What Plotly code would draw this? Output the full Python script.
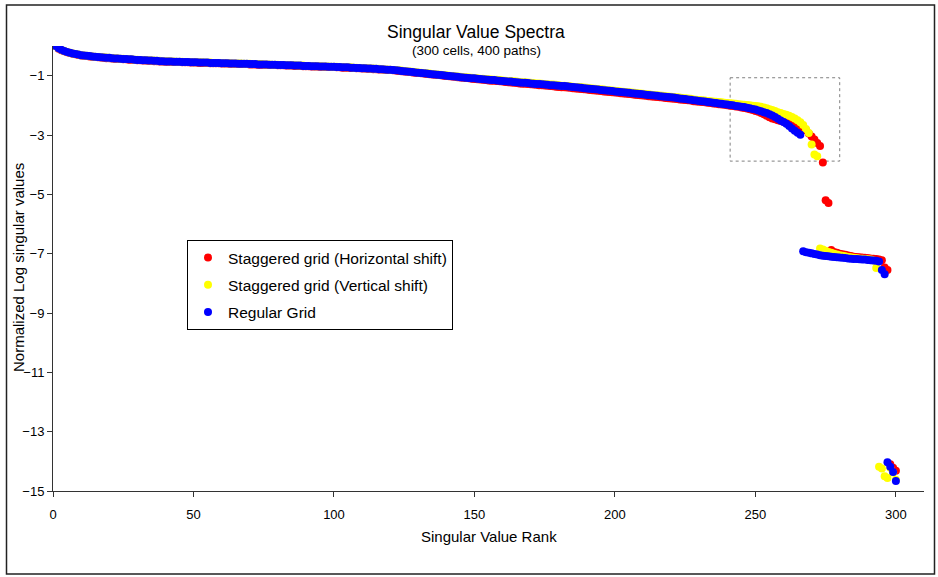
import plotly.graph_objects as go

# ---------------- data ----------------
series_names = ["Staggered grid (Horizontal shift)",
                "Staggered grid (Vertical shift)",
                "Regular Grid"]

horizontal_shift = [
    0.00, -0.09, -0.14, -0.18, -0.21, -0.24, -0.26, -0.28, -0.30, -0.32,
    -0.33, -0.34, -0.35, -0.36, -0.37, -0.38, -0.39, -0.40, -0.41, -0.41,
    -0.42, -0.43, -0.43, -0.44, -0.45, -0.45, -0.46, -0.46, -0.47, -0.48,
    -0.48, -0.49, -0.49, -0.50, -0.50, -0.51, -0.51, -0.52, -0.52, -0.53,
    -0.53, -0.53, -0.54, -0.54, -0.54, -0.55, -0.55, -0.55, -0.56, -0.56,
    -0.56, -0.57, -0.57, -0.57, -0.57, -0.58, -0.58, -0.58, -0.58, -0.59,
    -0.59, -0.59, -0.60, -0.60, -0.60, -0.61, -0.61, -0.61, -0.61, -0.62,
    -0.62, -0.62, -0.63, -0.63, -0.63, -0.63, -0.64, -0.64, -0.64, -0.65,
    -0.65, -0.65, -0.66, -0.66, -0.66, -0.67, -0.67, -0.67, -0.68, -0.68,
    -0.68, -0.69, -0.69, -0.69, -0.70, -0.70, -0.70, -0.71, -0.71, -0.71,
    -0.72, -0.72, -0.73, -0.73, -0.73, -0.74, -0.74, -0.75, -0.75, -0.76,
    -0.76, -0.77, -0.77, -0.78, -0.78, -0.79, -0.79, -0.80, -0.81, -0.81,
    -0.82, -0.83, -0.84, -0.85, -0.86, -0.87, -0.88, -0.89, -0.90, -0.91,
    -0.92, -0.93, -0.94, -0.95, -0.96, -0.97, -0.98, -0.99, -1.00, -1.01,
    -1.02, -1.03, -1.04, -1.05, -1.06, -1.07, -1.08, -1.09, -1.10, -1.11,
    -1.12, -1.13, -1.14, -1.15, -1.16, -1.17, -1.17, -1.18, -1.19, -1.20,
    -1.21, -1.22, -1.23, -1.24, -1.25, -1.26, -1.27, -1.27, -1.28, -1.29,
    -1.30, -1.31, -1.32, -1.32, -1.33, -1.34, -1.35, -1.36, -1.37, -1.38,
    -1.39, -1.39, -1.40, -1.41, -1.42, -1.43, -1.44, -1.45, -1.46, -1.47,
    -1.48, -1.49, -1.50, -1.51, -1.52, -1.53, -1.54, -1.55, -1.56, -1.57,
    -1.58, -1.59, -1.60, -1.61, -1.62, -1.63, -1.64, -1.65, -1.66, -1.67,
    -1.68, -1.69, -1.70, -1.71, -1.72, -1.73, -1.74, -1.75, -1.76, -1.77,
    -1.78, -1.79, -1.80, -1.81, -1.82, -1.83, -1.84, -1.86, -1.87, -1.88,
    -1.89, -1.90, -1.91, -1.92, -1.94, -1.95, -1.96, -1.97, -1.98, -2.00,
    -2.01, -2.02, -2.04, -2.05, -2.07, -2.09, -2.11, -2.13, -2.16, -2.19,
    -2.22, -2.26, -2.30, -2.35, -2.40, -2.44, -2.47, -2.50, -2.53, -2.55,
    -2.57, -2.59, -2.62, -2.65, -2.68, -2.72, -2.77, -2.84, -2.95, -3.05,
    -3.15, -3.27, -3.37, -3.93,
    -5.20, -5.29,
    -6.88, -6.94, -6.97, -7.00, -7.02, -7.04, -7.06, -7.08, -7.10, -7.11,
    -7.12, -7.13, -7.14, -7.15, -7.16, -7.17, -7.18, -7.20, -7.22, -7.47,
    -7.55,
    -14.10, -14.22, -14.32,
]

vertical_shift = [
    0.00, -0.08, -0.13, -0.17, -0.20, -0.23, -0.25, -0.27, -0.29, -0.31,
    -0.32, -0.33, -0.34, -0.35, -0.36, -0.37, -0.38, -0.38, -0.39, -0.40,
    -0.41, -0.41, -0.42, -0.43, -0.43, -0.44, -0.44, -0.45, -0.46, -0.46,
    -0.47, -0.47, -0.48, -0.48, -0.49, -0.49, -0.50, -0.50, -0.51, -0.51,
    -0.51, -0.52, -0.52, -0.53, -0.53, -0.53, -0.54, -0.54, -0.54, -0.55,
    -0.55, -0.55, -0.55, -0.56, -0.56, -0.56, -0.57, -0.57, -0.57, -0.57,
    -0.58, -0.58, -0.58, -0.59, -0.59, -0.59, -0.59, -0.60, -0.60, -0.60,
    -0.61, -0.61, -0.61, -0.61, -0.62, -0.62, -0.62, -0.63, -0.63, -0.63,
    -0.64, -0.64, -0.64, -0.65, -0.65, -0.65, -0.66, -0.66, -0.66, -0.67,
    -0.67, -0.67, -0.68, -0.68, -0.68, -0.69, -0.69, -0.69, -0.70, -0.70,
    -0.70, -0.71, -0.71, -0.72, -0.72, -0.72, -0.73, -0.73, -0.74, -0.74,
    -0.75, -0.75, -0.76, -0.76, -0.77, -0.77, -0.78, -0.79, -0.79, -0.80,
    -0.81, -0.81, -0.82, -0.83, -0.84, -0.85, -0.86, -0.87, -0.88, -0.89,
    -0.90, -0.91, -0.92, -0.93, -0.94, -0.95, -0.96, -0.97, -0.98, -0.99,
    -1.00, -1.01, -1.02, -1.03, -1.04, -1.05, -1.05, -1.06, -1.07, -1.08,
    -1.09, -1.10, -1.10, -1.11, -1.12, -1.13, -1.14, -1.14, -1.15, -1.16,
    -1.17, -1.18, -1.18, -1.19, -1.20, -1.21, -1.22, -1.22, -1.23, -1.24,
    -1.25, -1.26, -1.26, -1.27, -1.28, -1.29, -1.30, -1.30, -1.31, -1.32,
    -1.34, -1.34, -1.35, -1.36, -1.37, -1.38, -1.38, -1.39, -1.40, -1.41,
    -1.42, -1.43, -1.44, -1.45, -1.46, -1.47, -1.48, -1.49, -1.50, -1.51,
    -1.52, -1.53, -1.54, -1.55, -1.56, -1.57, -1.58, -1.59, -1.60, -1.61,
    -1.62, -1.63, -1.64, -1.65, -1.66, -1.67, -1.68, -1.69, -1.70, -1.71,
    -1.72, -1.73, -1.74, -1.75, -1.76, -1.77, -1.78, -1.80, -1.81, -1.82,
    -1.83, -1.84, -1.85, -1.86, -1.87, -1.88, -1.89, -1.90, -1.91, -1.92,
    -1.93, -1.94, -1.95, -1.96, -1.97, -1.98, -1.99, -2.00, -2.01, -2.02,
    -2.03, -2.05, -2.07, -2.10, -2.13, -2.16, -2.19, -2.23, -2.26, -2.29,
    -2.32, -2.35, -2.39, -2.44, -2.50, -2.57, -2.66, -2.80, -2.93, -3.32,
    -3.66, -3.72,
    -6.83, -6.86, -6.90, -6.94, -6.97, -7.00, -7.03, -7.05, -7.07, -7.09,
    -7.11, -7.12, -7.14, -7.15, -7.16, -7.17, -7.18, -7.19, -7.20, -7.23,
    -7.48,
    -14.18, -14.24, -14.50, -14.56, -14.22, -14.38, -14.62,
]

regular_grid = [
    0.00, -0.08, -0.13, -0.17, -0.20, -0.23, -0.25, -0.27, -0.29, -0.31,
    -0.32, -0.33, -0.34, -0.35, -0.36, -0.37, -0.38, -0.39, -0.40, -0.40,
    -0.41, -0.42, -0.42, -0.43, -0.44, -0.44, -0.45, -0.45, -0.46, -0.47,
    -0.47, -0.48, -0.48, -0.49, -0.49, -0.50, -0.50, -0.51, -0.51, -0.52,
    -0.52, -0.52, -0.53, -0.53, -0.53, -0.54, -0.54, -0.54, -0.55, -0.55,
    -0.55, -0.56, -0.56, -0.56, -0.56, -0.57, -0.57, -0.57, -0.57, -0.58,
    -0.58, -0.58, -0.59, -0.59, -0.59, -0.60, -0.60, -0.60, -0.60, -0.61,
    -0.61, -0.61, -0.62, -0.62, -0.62, -0.62, -0.63, -0.63, -0.63, -0.64,
    -0.64, -0.64, -0.65, -0.65, -0.65, -0.66, -0.66, -0.66, -0.67, -0.67,
    -0.67, -0.68, -0.68, -0.68, -0.69, -0.69, -0.69, -0.70, -0.70, -0.70,
    -0.71, -0.71, -0.72, -0.72, -0.72, -0.73, -0.73, -0.74, -0.74, -0.75,
    -0.75, -0.76, -0.76, -0.77, -0.77, -0.78, -0.78, -0.79, -0.80, -0.80,
    -0.81, -0.82, -0.83, -0.84, -0.85, -0.86, -0.87, -0.88, -0.89, -0.90,
    -0.91, -0.92, -0.93, -0.94, -0.95, -0.96, -0.97, -0.98, -0.99, -1.00,
    -1.01, -1.02, -1.03, -1.04, -1.05, -1.06, -1.07, -1.08, -1.09, -1.09,
    -1.10, -1.11, -1.12, -1.13, -1.14, -1.15, -1.15, -1.16, -1.17, -1.18,
    -1.19, -1.20, -1.20, -1.21, -1.22, -1.23, -1.24, -1.24, -1.25, -1.26,
    -1.27, -1.28, -1.28, -1.29, -1.30, -1.31, -1.32, -1.32, -1.33, -1.34,
    -1.35, -1.35, -1.36, -1.37, -1.38, -1.39, -1.40, -1.41, -1.42, -1.43,
    -1.44, -1.45, -1.46, -1.47, -1.48, -1.49, -1.50, -1.51, -1.52, -1.53,
    -1.54, -1.55, -1.56, -1.57, -1.58, -1.59, -1.60, -1.61, -1.62, -1.63,
    -1.64, -1.65, -1.66, -1.67, -1.68, -1.69, -1.70, -1.71, -1.72, -1.73,
    -1.74, -1.75, -1.77, -1.78, -1.79, -1.80, -1.81, -1.83, -1.84, -1.85,
    -1.86, -1.87, -1.89, -1.90, -1.91, -1.92, -1.94, -1.95, -1.96, -1.97,
    -1.99, -2.00, -2.02, -2.03, -2.05, -2.06, -2.08, -2.10, -2.12, -2.14,
    -2.17, -2.20, -2.23, -2.26, -2.30, -2.34, -2.39, -2.45, -2.51, -2.56,
    -2.62, -2.70, -2.78, -2.86, -2.92, -2.99,
    -6.92, -6.95, -6.97, -6.99, -7.01, -7.03, -7.05, -7.07, -7.08, -7.09,
    -7.10, -7.11, -7.12, -7.13, -7.14, -7.15, -7.16, -7.17, -7.18, -7.18,
    -7.19, -7.20, -7.20, -7.21, -7.22, -7.23, -7.24, -7.26, -7.55, -7.69,
    -14.03, -14.18, -14.36, -14.66,
]

series_values = [horizontal_shift, vertical_shift, regular_grid]
series_colors = ["#FF0000", "#FFFF00", "#0000FF"]

x_ticks = [0, 50, 100, 150, 200, 250, 300]
y_ticks = [-15, -13, -11, -9, -7, -5, -3, -1]

title_text = "Singular Value Spectra"
subtitle_text = "(300 cells, 400 paths)"
x_title = "Singular Value Rank"
y_title = "Normalized Log singular values"

# zoom box (data coordinates) drawn on the chart
zoom_box = dict(x0=241, x1=280, y0=-1.07, y1=-3.88)

# ---------------- layout geometry ----------------
FIG_W, FIG_H = 938, 577
ML, MR, MT, MB = 53, 14, 46, 86
PW = FIG_W - ML - MR
PH = FIG_H - MT - MB


def px_x(p):
    return (p - ML) / PW


def px_y(p):
    return (FIG_H - MB - p) / PH


FONT = "Arial, 'Liberation Sans', sans-serif"

fig = go.Figure()
for name, vals, col in zip(series_names, series_values, series_colors):
    ranks = list(range(1, len(vals) + 1))
    fig.add_trace(go.Scatter(
        x=ranks, y=vals, mode="markers", name=name, legendgroup=name,
        marker=dict(color=col, size=8, line=dict(width=0)),
    ))

fig.update_layout(
    width=FIG_W, height=FIG_H,
    margin=dict(l=ML, r=MR, t=MT, b=MB, autoexpand=False),
    paper_bgcolor="white", plot_bgcolor="white",
    font=dict(family=FONT, size=13, color="black"),
    showlegend=True,
    legend=dict(
        x=px_x(187), y=px_y(240), xanchor="left", yanchor="top",
        bgcolor="white", bordercolor="black", borderwidth=1,
        font=dict(size=15.5, family=FONT), tracegroupgap=4,
        itemwidth=30,
    ),
    xaxis=dict(
        range=[0, 310], tickvals=x_ticks, showgrid=False, zeroline=False,
        showline=True, linecolor="#333333", linewidth=1,
        ticks="outside", ticklen=5, tickcolor="#333333",
        tickfont=dict(size=13), ticklabelstandoff=6,
    ),
    yaxis=dict(
        range=[-15, 0], tickvals=y_ticks, showgrid=False, zeroline=False,
        showline=True, linecolor="#333333", linewidth=1,
        ticks="outside", ticklen=5, tickcolor="#333333",
        tickfont=dict(size=13),
    ),
    shapes=[
        dict(type="rect", xref="x", yref="y", **zoom_box,
             line=dict(color="#808080", width=1, dash="dot"),
             fillcolor="rgba(0,0,0,0)", layer="below"),
        dict(type="rect", xref="paper", yref="paper",
             x0=px_x(6.5), x1=px_x(934.5), y0=px_y(574), y1=px_y(5),
             line=dict(color="#222222", width=1.5),
             fillcolor="rgba(0,0,0,0)"),
    ],
    annotations=[
        dict(text=title_text, xref="paper", yref="paper",
             x=px_x(476), y=px_y(32), xanchor="center", yanchor="middle",
             showarrow=False, font=dict(size=17.5, family=FONT)),
        dict(text=subtitle_text, xref="paper", yref="paper",
             x=px_x(476), y=px_y(50), xanchor="center", yanchor="middle",
             showarrow=False, font=dict(size=13.5, family=FONT)),
        dict(text=x_title, xref="paper", yref="paper",
             x=px_x(489), y=px_y(536), xanchor="center", yanchor="middle",
             showarrow=False, font=dict(size=15, family=FONT)),
        dict(text=y_title, xref="paper", yref="paper",
             x=px_x(18), y=px_y(268), xanchor="center", yanchor="middle",
             textangle=-90, showarrow=False, font=dict(size=15, family=FONT)),
    ],
)

fig.write_html("out.html",
               config=dict(displayModeBar=False),
               post_script="document.body.style.margin='0';"
                           "document.body.style.padding='0';")
